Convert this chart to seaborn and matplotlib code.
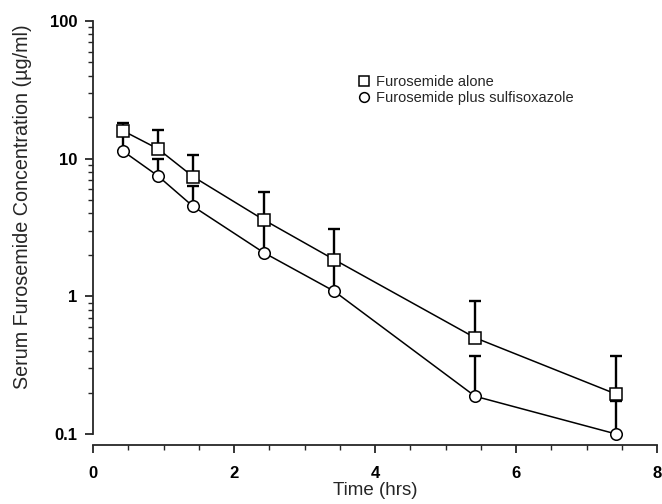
import numpy as np
import pandas as pd
import matplotlib
matplotlib.use("Agg")
import matplotlib.pyplot as plt
from matplotlib.lines import Line2D
from matplotlib.ticker import LogLocator, FixedLocator, MultipleLocator, FuncFormatter
import seaborn as sns

# data
time_hrs = [0.42, 0.92, 1.42, 2.42, 3.42, 5.42, 7.42]
alone = [16.0, 11.8, 7.4, 3.6, 1.85, 0.50, 0.195]
alone_upper = [18.1, 16.2, 10.7, 5.75, 3.1, 0.92, 0.37]
plus = [11.4, 7.5, 4.5, 2.08, 1.09, 0.188, 0.10]
plus_upper = [15.0, 10.0, 6.3, 3.5, 1.8, 0.37, 0.175]
labels = ["Furosemide alone", "Furosemide plus sulfisoxazole"]
y_ticks = [0.1, 1, 10, 100]
x_ticks = [0, 2, 4, 6, 8]

df = pd.DataFrame({
    "time": time_hrs * 2,
    "conc": alone + plus,
    "group": [labels[0]] * len(alone) + [labels[1]] * len(plus),
})

sns.set_style("ticks")
plt.rcParams['font.family'] = ['Liberation Sans', 'DejaVu Sans']

fig = plt.figure(figsize=(6.62, 5.04), dpi=100)
ax = fig.add_axes([93/662, 1 - 434/504, (657-93)/662, (434-21)/504])

# upward error bars only
for y, up in [(alone, alone_upper), (plus, plus_upper)]:
    y = np.array(y)
    err = np.array(up) - y
    ax.errorbar(time_hrs, y, yerr=[np.zeros_like(err), err], fmt='none',
                ecolor='black', elinewidth=1.7, capsize=4.5, capthick=1.7, zorder=2)

sns.lineplot(data=df, x="time", y="conc", style="group", markers={labels[0]: 's', labels[1]: 'o'},
             dashes=False, color='black', linewidth=1.1, markersize=8.3,
             markerfacecolor='white', markeredgecolor='black', markeredgewidth=1.1,
             legend=False, ax=ax, zorder=3, clip_on=False)

ax.set_yscale('log')
ax.set_xlim(0, 8)
ax.set_ylim(0.1, 100)
ax.xaxis.set_major_locator(FixedLocator(x_ticks))
ax.xaxis.set_minor_locator(MultipleLocator(0.5))
ax.yaxis.set_major_locator(FixedLocator(y_ticks))
ax.yaxis.set_minor_locator(LogLocator(base=10, subs=np.arange(2, 10)))
ax.yaxis.set_major_formatter(FuncFormatter(lambda v, p: f"{v:g}"))

sns.despine(ax=ax)
ax.spines['bottom'].set_position(('outward', 8))
for s in ['left', 'bottom']:
    ax.spines[s].set_linewidth(1.3)

ax.tick_params(which='major', length=6, width=1.1, labelsize=12, colors='black')
ax.tick_params(which='minor', length=3.5, width=1.0)
ax.tick_params(axis='x', which='major', pad=9)
ax.tick_params(axis='y', which='major', pad=5)
for t in ax.get_xticklabels() + ax.get_yticklabels():
    t.set_fontweight('bold')

ax.set_xlabel("Time (hrs)", fontsize=13.5, labelpad=1)
ax.set_ylabel("Serum Furosemide Concentration (\u00b5g/ml)", fontsize=14.2)
ax.yaxis.set_label_coords(-0.108, 0.55)

handles = [Line2D([], [], marker='s', linestyle='none', markersize=7, markerfacecolor='white',
                  markeredgecolor='black', markeredgewidth=1.1),
           Line2D([], [], marker='o', linestyle='none', markersize=7, markerfacecolor='white',
                  markeredgecolor='black', markeredgewidth=1.1)]
ax.legend(handles, labels, loc='upper left', bbox_to_anchor=(358/662, 1 - 75/504),
          bbox_transform=fig.transFigure, frameon=False, fontsize=10.5,
          handlelength=0.8, handletextpad=0.4, labelspacing=0.15, borderpad=0, borderaxespad=0)

plt.savefig("out.png", dpi=100)
